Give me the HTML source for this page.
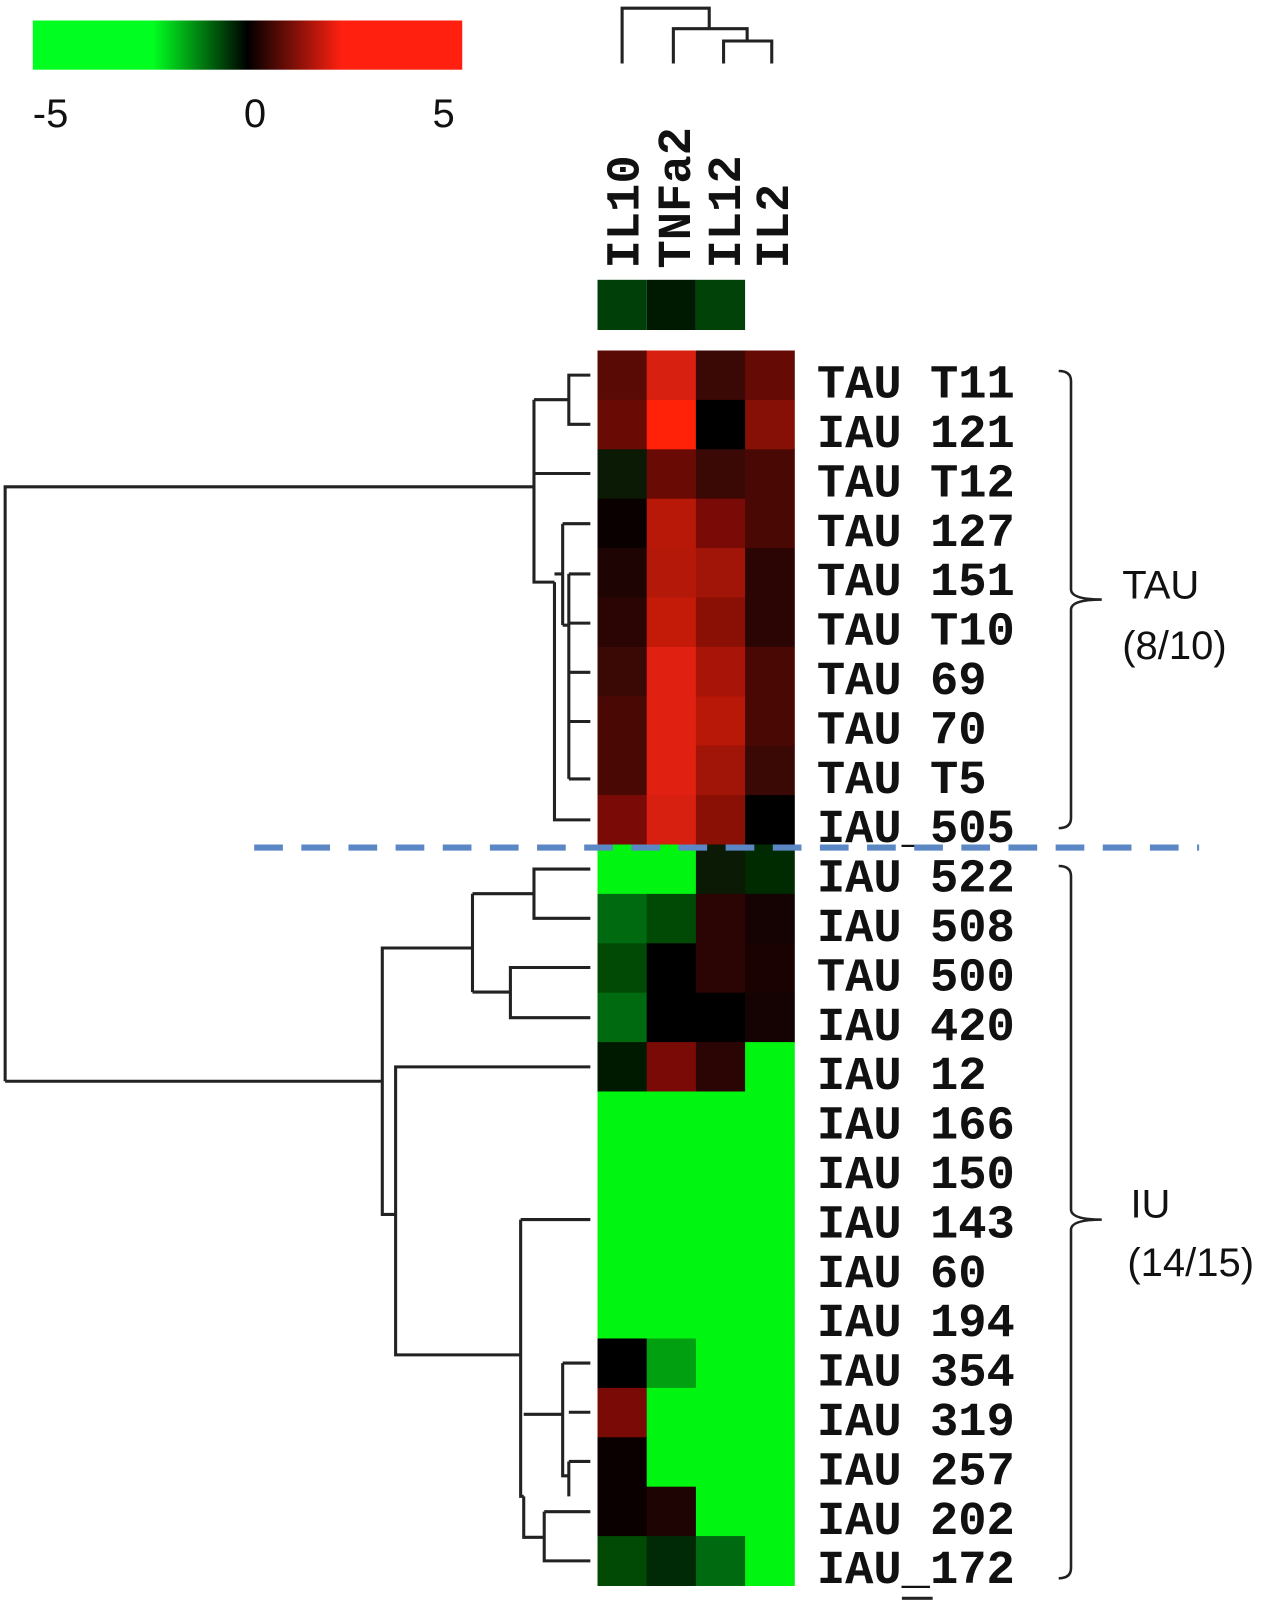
<!DOCTYPE html>
<html><head><meta charset="utf-8"><style>
html,body{margin:0;padding:0;background:#fff;}
svg{display:block;}
.lb{font-family:"Liberation Mono",monospace;font-weight:bold;font-size:46px;fill:#111;}
.sn{font-family:"Liberation Sans",sans-serif;font-size:39px;fill:#111;}
</style></head><body>
<svg width="1276" height="1607" viewBox="0 0 1245 1568" xmlns="http://www.w3.org/2000/svg">
<defs>
<linearGradient id="cb" x1="0" x2="1">
<stop offset="0" stop-color="#00ff20"/><stop offset="0.28" stop-color="#00ff20"/>
<stop offset="0.5" stop-color="#000"/>
<stop offset="0.72" stop-color="#ff2010"/><stop offset="1" stop-color="#ff2010"/>
</linearGradient>
</defs>
<rect x="32" y="20" width="419" height="48" fill="url(#cb)"/>
<text class="sn" x="32" y="124">-5</text>
<text class="sn" x="238" y="124">0</text>
<text class="sn" x="422" y="124">5</text>

<g fill="none" stroke="#222" stroke-width="3">
<path d="M607 62V8H692V28M657 62V28H729V40M706 62V40H753V62"/>
</g>

<g class="lb">
<text transform="translate(623,262) rotate(-90)">IL10</text>
<text transform="translate(673,262) rotate(-90)">TNFa2</text>
<text transform="translate(722,262) rotate(-90)">IL12</text>
<text transform="translate(769,262) rotate(-90)">IL2</text>
</g>

<rect x="583" y="273" width="48" height="49" fill="#004008"/>
<rect x="631" y="273" width="48" height="49" fill="#001a02"/>
<rect x="679" y="273" width="48" height="49" fill="#004208"/>

<g id="hm"></g>

<g fill="none" stroke="#222" stroke-width="3">
<path d="M5 1055V475H521M5 1055H373"/>
<path d="M576 366H555V414H576M555 390H521M521 462H576M521 390V568H541"/>
<path d="M541 568V800H576M541 560H549M549 511V610M549 511H576M549 610H555M555 560H576M555 560V760M555 608H576M555 656H576M555 704H576M555 760H576"/>
<path d="M576 848H521V896H576M521 872H461M576 944H498V993H576M498 968H461M461 872V968M461 925H373V1185H386"/>
<path d="M576 1041H386V1322H508M508 1190H576M508 1190V1460H511M511 1380H549V1440H555M549 1330H576M549 1330V1380M555 1378H576M555 1426H576M555 1426V1460M511 1460V1500H531M531 1475H576M531 1475V1523H576"/>
</g>

<g class="lb" id="labels"></g>

<line x1="248" y1="827" x2="1170" y2="827" stroke="#5b87c5" stroke-width="6" stroke-dasharray="28 18"/>

<g fill="none" stroke="#222" stroke-width="2.5">
<path d="M1033 362Q1045 362 1045 372V575Q1045 585 1075 585Q1045 585 1045 595V798Q1045 808 1033 808"/>
<path d="M1033 845Q1045 845 1045 855V1180Q1045 1190 1075 1190Q1045 1190 1045 1200V1530Q1045 1540 1033 1540"/>
</g>
<text class="sn" x="1095" y="584">TAU</text>
<text class="sn" x="1095" y="643">(8/10)</text>
<text class="sn" x="1103" y="1188">IU</text>
<text class="sn" x="1100" y="1245">(14/15)</text>
<rect x="880" y="1558" width="30" height="3" fill="#222"/>
</svg>
<script>
var G='#00f510';
var rows=[
["TAU T11",["#5a0a05","#d82010","#3a0805","#650a05"]],
["IAU 121",["#6a0a05","#ff2208","#000000","#861005"]],
["TAU T12",["#0a1a05","#6a0a05","#3a0805","#4a0805"]],
["TAU 127",["#0a0000","#b81808","#7a0a05","#4a0805"]],
["TAU 151",["#1e0503","#b41808","#a01508","#2a0503"]],
["TAU T10",["#2a0503","#c41a08","#8a1005","#2a0503"]],
["TAU 69",["#3a0805","#e02010","#a81508","#4a0805"]],
["TAU 70",["#4a0805","#e02010","#b81808","#4a0805"]],
["TAU T5",["#4a0805","#e02010","#a01508","#3a0805"]],
["IAU_505",["#7a0a05","#d82010","#8a1005","#000000"]],
["IAU 522",[G,G,"#0a1a05","#002a00"]],
["IAU 508",["#006a10","#004a05","#2a0503","#150202"]],
["TAU 500",["#004a05","#000000","#2a0503","#1a0202"]],
["IAU 420",["#006a10","#000000","#000000","#150202"]],
["IAU 12",["#001a00","#7a0a05","#2a0503",G]],
["IAU 166",[G,G,G,G]],
["IAU 150",[G,G,G,G]],
["IAU 143",[G,G,G,G]],
["IAU 60",[G,G,G,G]],
["IAU 194",[G,G,G,G]],
["IAU 354",["#000000","#00a010",G,G]],
["IAU 319",["#7a0a05",G,G,G]],
["IAU 257",["#0a0000",G,G,G]],
["IAU 202",["#0a0000","#1e0503",G,G]],
["IAU_172",["#004a05","#002a05","#006a10",G]]
];
var ns="http://www.w3.org/2000/svg",hm=document.getElementById('hm'),lb=document.getElementById('labels');
var h=48.2;
rows.forEach(function(r,i){
  r[1].forEach(function(c,j){
    var e=document.createElementNS(ns,'rect');
    e.setAttribute('x',583+48*j);e.setAttribute('y',342+h*i);
    e.setAttribute('width',48.5);e.setAttribute('height',h+0.5);e.setAttribute('fill',c);
    hm.appendChild(e);
  });
  var t=document.createElementNS(ns,'text');
  t.setAttribute('x',797);t.setAttribute('y',342+h*i+46);
  t.textContent=r[0];lb.appendChild(t);
});
</script>
</body></html>
